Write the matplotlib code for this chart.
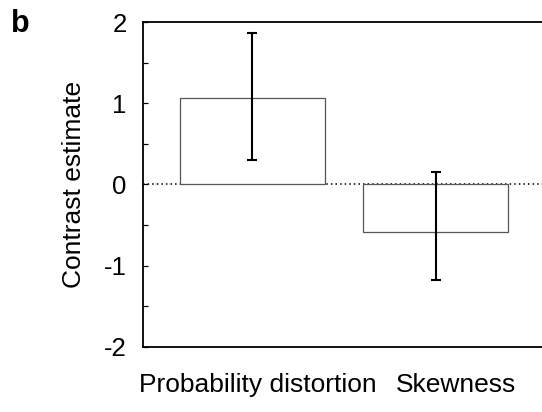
import matplotlib

matplotlib.use("Agg")
import matplotlib.pyplot as plt

# contrast estimates with 95% intervals
conditions = ["Probability distortion", "Skewness"]
estimates = [1.06, -0.58]
ci_upper = [1.86, 0.15]
ci_lower = [0.30, -1.18]
yticks = [-2, -1, 0, 1, 2]

plt.rcParams["font.family"] = ["Liberation Sans", "DejaVu Sans"]


def main() -> None:
    fig = plt.figure(figsize=(5.42, 4.12), dpi=100)
    ax = fig.add_axes([0.2644, 0.1578, 0.7356, 0.7888])

    x = list(range(len(conditions)))
    err_low = [e - lo for e, lo in zip(estimates, ci_lower)]
    err_high = [hi - e for e, hi in zip(estimates, ci_upper)]

    ax.axhline(0, color="black", linestyle=(0, (1, 2)), linewidth=1.1, zorder=1)
    ax.bar(x, estimates, width=0.79, color="white", edgecolor="#555555",
           linewidth=0.9, zorder=2)
    ax.errorbar(x, estimates, yerr=[err_low, err_high], fmt="none",
                ecolor="black", elinewidth=1.5, capsize=3.5, capthick=1.5,
                zorder=3)

    ax.set_xlim(-0.595, 1.578)
    ax.set_ylim(-2, 2)
    ax.set_yticks(yticks)
    ax.set_yticklabels([str(t) for t in yticks])
    ax.set_yticks([-1.5, -0.5, 0.5, 1.5], minor=True)
    ax.tick_params(axis="y", which="both", direction="in", length=3.5,
                   width=0.9, labelsize=18.5, pad=12)

    # labels sit a little right of the bar centres in the original
    label_shift = [0.03, 0.11]
    ax.set_xticks([p + s for p, s in zip(x, label_shift)])
    ax.set_xticklabels(conditions, fontsize=19)
    ax.tick_params(axis="x", length=0, pad=19)

    ax.set_ylabel("Contrast estimate", fontsize=19, labelpad=13)

    ax.spines["right"].set_visible(False)
    for side in ("left", "top", "bottom"):
        ax.spines[side].set_linewidth(1.3)

    fig.text(0.037, 0.942, "b", fontsize=22, fontweight="bold",
             va="center", ha="center")

    fig.savefig("out.png", dpi=100)
    plt.close(fig)


if __name__ == "__main__":
    main()
